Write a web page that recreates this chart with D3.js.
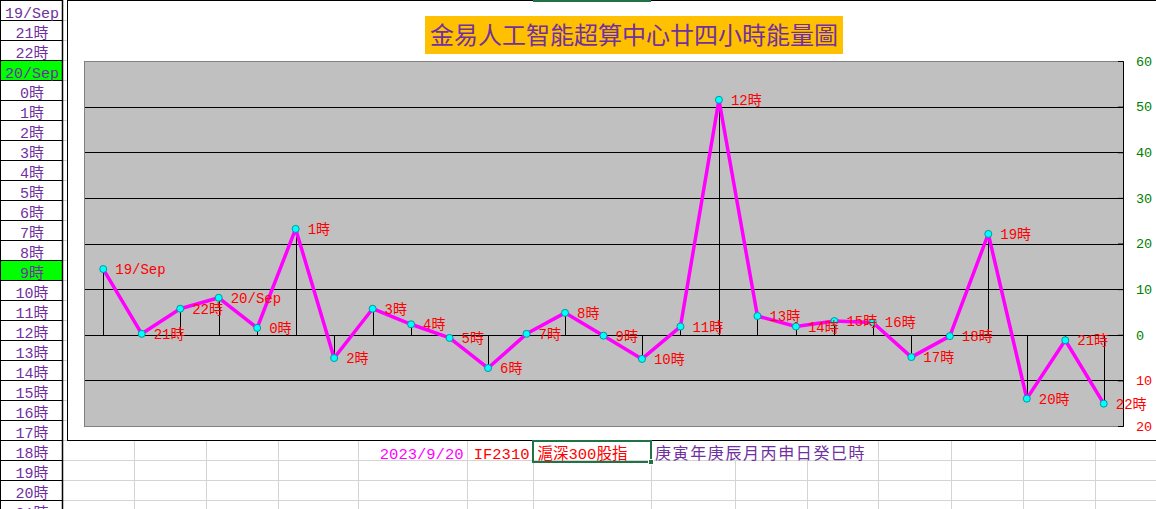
<!DOCTYPE html>
<html>
<head>
<meta charset="utf-8">
<title>金易人工智能超算中心廿四小時能量圖</title>
<style>
  body { margin: 0; background: #fff; }
  svg { display: block; }
</style>
</head>
<body>
<svg id="chart"></svg>
<script src="https://d3js.org/d3.v7.min.js"></script>
<script>
// readings along the line, one per hour
const hours = ["19/Sep","21時","22時","20/Sep","0時","1時","2時","3時","4時","5時","6時",
  "7時","8時","9時","10時","11時","12時","13時","14時","15時","16時","17時","18時",
  "19時","20時","21時","22時"];
const energy = [14.4, 0.2, 5.7, 8.1, 1.5, 23.2, -5.1, 5.7, 2.3, -0.7, -7.3,
  0.2, 4.8, -0.2, -5.3, 1.8, 51.5, 4.1, 1.8, 3.0, 2.7, -4.9, -0.3,
  22.1, -14.0, -1.2, -15.1];
const yTicks = [-20, -10, 0, 10, 20, 30, 40, 50, 60];

// the sheet column on the left
const sideLabels = ["19/Sep","21時","22時","20/Sep","0時","1時","2時","3時","4時","5時",
  "6時","7時","8時","9時","10時","11時","12時","13時","14時","15時","16時","17時",
  "18時","19時","20時","21時"];
const sideMarked = ["20/Sep", "9時"];

const title = "金易人工智能超算中心廿四小時能量圖";
const footDate = "2023/9/20";
const footCode = "IF2310";
const footName = "滬深300股指";
const footGanzhi = "庚寅年庚辰月丙申日癸巳時";

const W = 1156, H = 509;
const mono = "'Liberation Mono', 'Noto Sans CJK TC', monospace";
const cjk = "'Noto Sans CJK TC', sans-serif";
const colEdges = [134, 206, 278, 358, 467, 533, 651, 735, 807, 878, 951, 1023, 1095];
const overflowCols = [735, 807];

const svg = d3.select('#chart').attr('width', W).attr('height', H);

// sheet gridlines
const grid = svg.append('g').attr('stroke', '#d4d4d4').attr('shape-rendering', 'crispEdges');
sideLabels.forEach((d, i) => {
  grid.append('line').attr('x1', 62).attr('x2', 68)
    .attr('y1', (i + 1) * 20 + 0.5).attr('y2', (i + 1) * 20 + 0.5);
});
[460.5, 480.5, 500.5].forEach(yy => {
  grid.append('line').attr('x1', 62).attr('x2', W).attr('y1', yy).attr('y2', yy);
});
colEdges.forEach(cx => {
  grid.append('line').attr('x1', cx + 0.5).attr('x2', cx + 0.5)
    .attr('y1', overflowCols.includes(cx) ? 460 : 440).attr('y2', H);
});

// left column
const side = svg.append('g');
side.selectAll('rect').data(sideLabels).enter().append('rect')
  .attr('x', 0).attr('y', (d, i) => i * 20 + 0.5)
  .attr('width', 62).attr('height', 20)
  .attr('fill', d => sideMarked.includes(d) ? '#00ff00' : '#fff')
  .attr('stroke', '#000').attr('shape-rendering', 'crispEdges');
side.append('line').attr('x1', 62.5).attr('x2', 62.5).attr('y1', 0).attr('y2', H)
  .attr('stroke', '#000').attr('stroke-width', 1.5);
side.selectAll('text').data(sideLabels).enter().append('text')
  .attr('x', 32).attr('y', (d, i) => i * 20 + 17.5)
  .attr('text-anchor', 'middle')
  .attr('font-family', mono).attr('font-size', 15)
  .attr('fill', '#7030a0')
  .text(d => d);

// chart box
svg.append('rect').attr('x', 67.5).attr('y', 0.5).attr('width', W).attr('height', 440)
  .attr('fill', '#fff').attr('stroke', '#000').attr('shape-rendering', 'crispEdges');
svg.append('rect').attr('x', 533).attr('y', 0).attr('width', 118).attr('height', 2)
  .attr('fill', '#217346');

// title
svg.append('rect').attr('x', 425).attr('y', 16).attr('width', 418).attr('height', 38)
  .attr('fill', '#ffc000');
svg.append('text').attr('x', 634).attr('y', 44)
  .attr('text-anchor', 'middle')
  .attr('font-family', cjk).attr('font-size', 24)
  .attr('fill', '#7030a0')
  .text(title);

// scales (by position, since hour names repeat across the two days)
const x = d3.scalePoint().domain(d3.range(hours.length)).range([84, 1123]).padding(0.5);
const y = d3.scaleLinear().domain([-20, 60]).range([426, 61]);

// plot area
svg.append('rect')
  .attr('x', 84.5).attr('y', 61.5).attr('width', 1123 - 84).attr('height', 426 - 61)
  .attr('fill', '#c0c0c0').attr('stroke', '#808080');

svg.append('g').selectAll('line').data(yTicks.slice(1, -1)).enter().append('line')
  .attr('x1', 85).attr('x2', 1123)
  .attr('y1', d => Math.round(y(d)) + 0.5).attr('y2', d => Math.round(y(d)) + 0.5)
  .attr('stroke', '#000');

// right axis
const axis = d3.axisRight(y).tickValues(yTicks).tickSize(-5).tickPadding(13)
  .tickFormat(d => Math.abs(d));
const ag = svg.append('g').attr('transform', 'translate(1123,0)').call(axis)
  .attr('font-family', mono).attr('font-size', 13.5);
ag.select('.domain').attr('stroke', '#000');
ag.selectAll('.tick line').attr('stroke', '#000');
ag.selectAll('.tick text').attr('fill', d => d < 0 ? '#ff0000' : '#008000');

const pts = hours.map((h, i) => ({ i: i, h: h, v: energy[i] }));

// drop lines to zero
svg.append('g').selectAll('line').data(pts).enter().append('line')
  .attr('x1', d => Math.round(x(d.i)) + 0.5).attr('x2', d => Math.round(x(d.i)) + 0.5)
  .attr('y1', d => y(d.v)).attr('y2', Math.round(y(0)) + 0.5)
  .attr('stroke', '#000');

// energy line
svg.append('path').datum(pts)
  .attr('d', d3.line().x(d => x(d.i)).y(d => y(d.v)))
  .attr('fill', 'none').attr('stroke', '#ff00ff').attr('stroke-width', 3.5)
  .attr('stroke-linejoin', 'round');

svg.append('g').selectAll('circle').data(pts).enter().append('circle')
  .attr('cx', d => x(d.i)).attr('cy', d => y(d.v)).attr('r', 3.5)
  .attr('fill', '#00ffff').attr('stroke', '#009999').attr('stroke-width', 1);

svg.append('g').selectAll('text').data(pts).enter().append('text')
  .attr('x', d => x(d.i) + 12).attr('y', d => y(d.v)).attr('dy', '0.36em')
  .attr('font-family', mono).attr('font-size', 14)
  .attr('fill', '#ff0000')
  .text(d => d.h);

// footer row
const foot = svg.append('g').attr('font-family', mono).attr('font-size', 15.5);
foot.append('text').attr('x', 463.5).attr('y', 459).attr('text-anchor', 'end')
  .attr('fill', '#ff00ff').text(footDate);
foot.append('text').attr('x', 529.5).attr('y', 459).attr('text-anchor', 'end')
  .attr('fill', '#ff0000').text(footCode);
foot.append('text').attr('x', 537.5).attr('y', 459)
  .attr('fill', '#ff0000').text(footName);
foot.append('text').attr('x', 655).attr('y', 459).attr('font-size', 16)
  .attr('letter-spacing', 1.6)
  .attr('fill', '#7030a0').text(footGanzhi);

// selected cell
svg.append('rect').attr('x', 533).attr('y', 441).attr('width', 118).attr('height', 21)
  .attr('fill', 'none').attr('stroke', '#217346').attr('stroke-width', 2);
svg.append('rect').attr('x', 648.5).attr('y', 459.5).attr('width', 5).attr('height', 5)
  .attr('fill', '#217346').attr('stroke', '#fff').attr('stroke-width', 1);
</script>
</body>
</html>
